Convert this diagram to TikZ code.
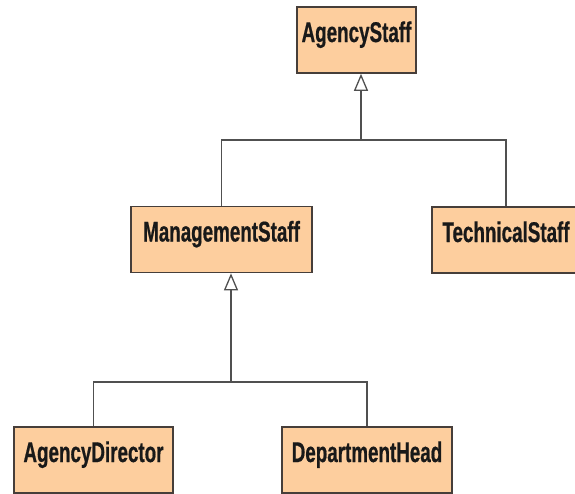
\documentclass[tikz,border=0pt]{standalone}
\usepackage{fontspec}
\newfontfamily\umlfont[FakeStretch=0.66,FakeBold=0.6]{Liberation Sans}
\usetikzlibrary{arrows.meta}
\definecolor{boxfill}{RGB}{253,206,158}
\definecolor{boxline}{RGB}{70,62,58}
\definecolor{wire}{RGB}{80,80,80}

\begin{document}
\begin{tikzpicture}[x=1pt,y=-1pt,
    cls/.style={draw=boxline, fill=boxfill, line width=1.6pt, inner sep=0pt,
      text height=35pt, text depth=31pt, text=black!90,
      font=\umlfont\bfseries\fontsize{28.5}{30}\selectfont},
    gen/.style={draw=wire, line width=1.3pt},
    inherit/.style={gen, -{Triangle[open, length=17pt, width=14pt, fill=white]}}]
        \useasboundingbox (0,0) rectangle (575,493);
        \node[cls, minimum width=119pt] (agency) at (356.5,40) {AgencyStaff};
        \node[cls, minimum width=181pt] (mgmt) at (221.5,239.5) {ManagementStaff};
        \node[cls, minimum width=148pt] (tech) at (506,240) {TechnicalStaff};
        \node[cls, minimum width=159pt] (director) at (93.5,460) {AgencyDirector};
        \node[cls, minimum width=170pt] (head) at (367,460) {DepartmentHead};
        \coordinate (fork1) at (361,140);
        \coordinate (fork2) at (231,382);
        \draw[inherit] (fork1) -- (fork1 |- agency.south);
        \draw[gen] (mgmt.north) |- (fork1) -| (tech.north);
        \draw[inherit] (fork2) -- (fork2 |- mgmt.south);
        \draw[gen] (director.north) |- (fork2) -| (head.north);
    \end{tikzpicture}
\end{document}
